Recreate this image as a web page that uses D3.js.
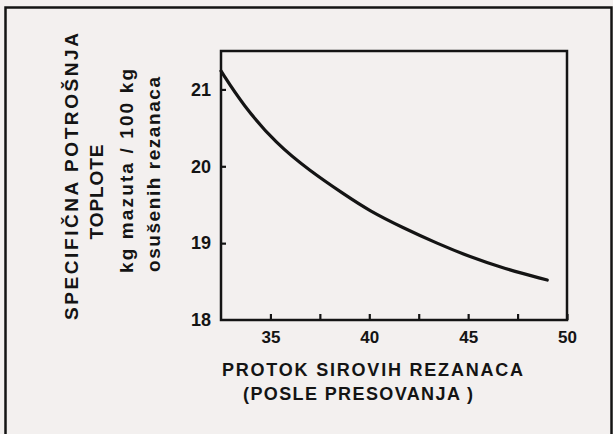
<!DOCTYPE html>
<html>
<head>
<meta charset="utf-8">
<script src="https://cdn.jsdelivr.net/npm/d3@7"></script>
<style>
  body { margin: 0; background: #f3f0ef; }
  svg { display: block; font-family: "Liberation Sans", Arial, sans-serif; font-weight: bold; }
</style>
</head>
<body>
<svg id="chart"></svg>
<script>
// data
var flowValues = [32.5, 33.6, 35.3, 37.0, 38.7, 40.0, 41.7, 43.4, 45.1, 46.8, 49.0];
var heatValues = [21.24, 20.80, 20.29, 19.94, 19.64, 19.42, 19.20, 19.00, 18.82, 18.67, 18.52];
var xTicks = [35, 37.5, 40, 42.5, 45, 47.5, 50];
var yTicks = [18, 19, 20, 21];
var yTitle = ["SPECIFIČNA POTROŠNJA", "TOPLOTE", "kg mazuta / 100 kg", "osušenih rezanaca"];
var xTitle = ["PROTOK SIROVIH REZANACA", "(POSLE PRESOVANJA )"];

var width = 613;
var height = 434;
var margin = { top: 51, left: 221, bottom: 114, right: 46 };
var ink = "#141414";

var svg = d3.select("#chart")
    .attr("width", width)
    .attr("height", height);

// outer frame
svg.append("rect")
    .attr("x", 5.5).attr("y", 7.5)
    .attr("width", 606).attr("height", 428)
    .attr("fill", "none")
    .attr("stroke", ink)
    .attr("stroke-width", 2.5);

// scales
var xScale = d3.scaleLinear().domain([32.5, 50]).range([margin.left, width - margin.right]);
var yScale = d3.scaleLinear().domain([18, 21.5]).range([height - margin.bottom, margin.top]);

// plot box
svg.append("rect")
    .attr("x", xScale(32.5)).attr("y", yScale(21.5))
    .attr("width", xScale(50) - xScale(32.5))
    .attr("height", yScale(18) - yScale(21.5))
    .attr("fill", "none")
    .attr("stroke", ink)
    .attr("stroke-width", 2.5);

// axes
var xAxis = svg.append("g")
    .attr("transform", `translate(0, ${yScale(18)})`)
    .call(d3.axisBottom(xScale)
        .tickValues(xTicks)
        .tickSize(-6)
        .tickPadding(11)
        .tickFormat(function(d) { return d % 5 === 0 ? d : ""; }));

var yAxis = svg.append("g")
    .attr("transform", `translate(${xScale(32.5)}, 0)`)
    .call(d3.axisLeft(yScale)
        .tickValues(yTicks)
        .tickSize(-5)
        .tickPadding(10)
        .tickFormat(d3.format("d")));

svg.selectAll(".domain").remove();
svg.selectAll(".tick line").attr("stroke", ink).attr("stroke-width", 2.2);
xAxis.selectAll("text").attr("fill", ink).style("font-size", "17px").style("font-weight", "bold").style("font-family", "inherit");
yAxis.selectAll("text").attr("fill", ink).style("font-size", "18px").style("font-weight", "bold").style("font-family", "inherit");
yAxis.select(".tick:first-of-type line").remove();

// curve
var valueline = d3.line()
    .x(function(d, i) { return xScale(flowValues[i]); })
    .y(function(d) { return yScale(d); })
    .curve(d3.curveBasis);

svg.append("path")
    .attr("d", valueline(heatValues))
    .attr("fill", "none")
    .attr("stroke", ink)
    .attr("stroke-width", 3.2)
    .attr("stroke-linecap", "round");

// rotated y titles: [baseline x, centre y, size, length]
var yPos = [[78, 176.5, 19, 287], [103, 192, 19, 95], [133, 171, 19, 204], [160, 174.5, 19, 195]];
yTitle.forEach(function(t, i) {
    svg.append("text")
        .attr("text-anchor", "middle")
        .attr("transform", "translate(" + yPos[i][0] + "," + yPos[i][1] + ")rotate(-90)")
        .attr("fill", ink)
        .style("font-size", yPos[i][2] + "px")
        .attr("textLength", yPos[i][3])
        .attr("lengthAdjust", "spacing")
        .text(t);
});

// x titles
var xPos = [[222, 376, 18, 301], [243, 400, 18, 230]];
xTitle.forEach(function(t, i) {
    svg.append("text")
        .attr("x", xPos[i][0])
        .attr("y", xPos[i][1])
        .attr("fill", ink)
        .style("font-size", xPos[i][2] + "px")
        .attr("textLength", xPos[i][3])
        .attr("lengthAdjust", "spacing")
        .text(t);
});
</script>
</body>
</html>
